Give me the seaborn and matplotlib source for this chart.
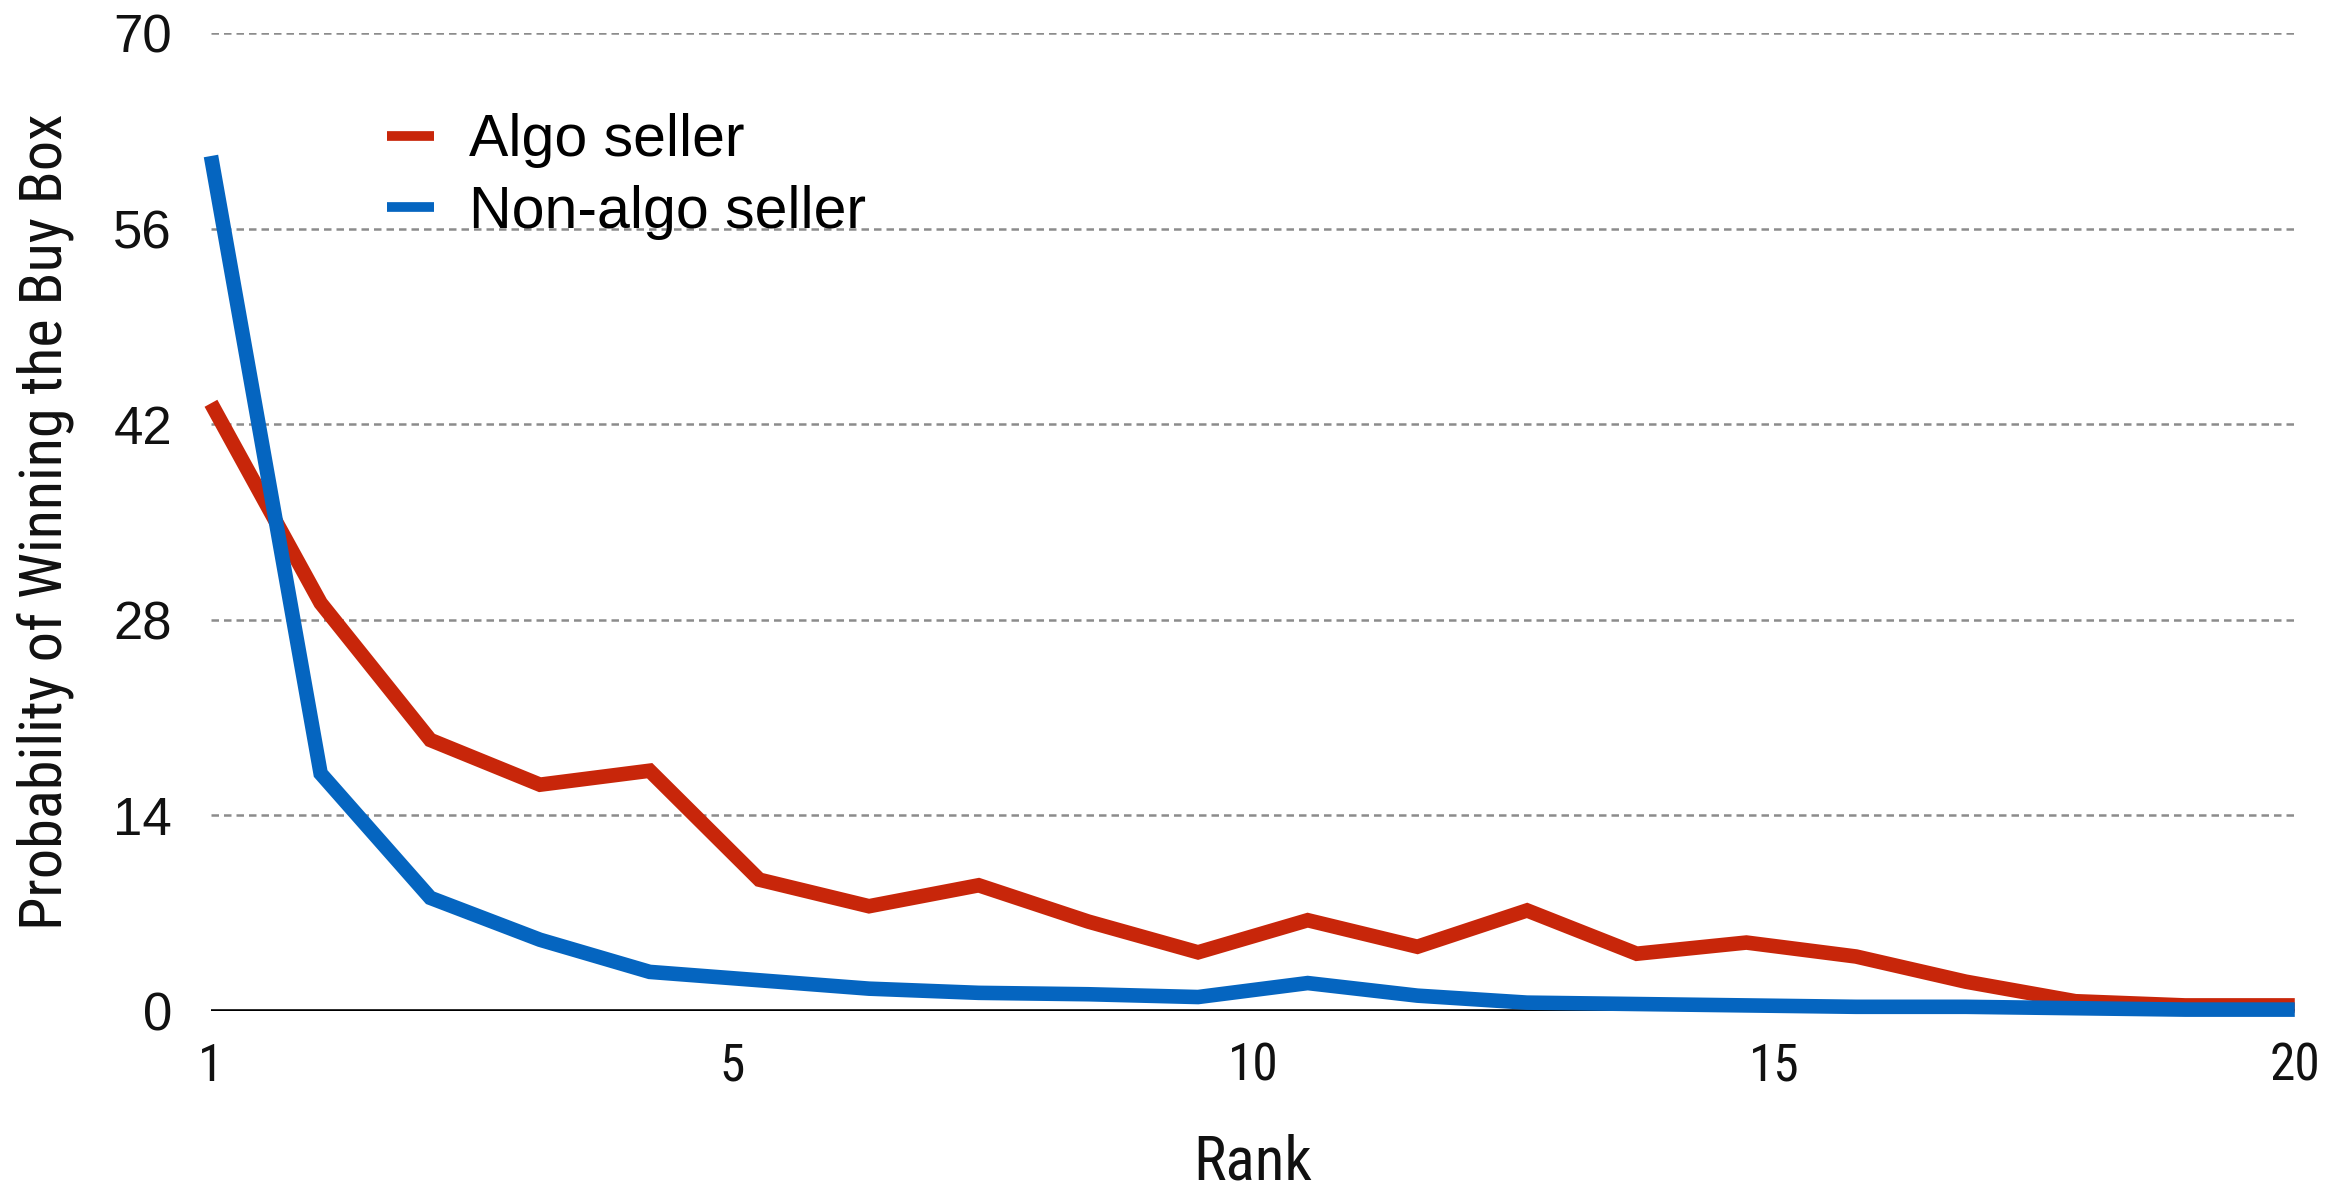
import numpy as np
import pandas as pd
import matplotlib
matplotlib.use("Agg")
import matplotlib.pyplot as plt
from matplotlib import font_manager
from matplotlib.lines import Line2D
import seaborn as sns

ranks = list(range(1, 21))
algo = [43.5, 29.2, 19.4, 16.2, 17.2, 9.4, 7.5, 9.0, 6.4, 4.2,
        6.5, 4.6, 7.2, 4.1, 4.9, 3.9, 2.1, 0.7, 0.4, 0.4]
non_algo = [61.2, 17.0, 8.1, 5.1, 2.8, 2.2, 1.6, 1.3, 1.2, 1.0,
            2.0, 1.1, 0.6, 0.5, 0.4, 0.3, 0.3, 0.2, 0.1, 0.1]
series_names = ["Algo seller", "Non-algo seller"]
colors = ["#C8260A", "#0565C0"]
y_ticks = [0, 14, 28, 42, 56, 70]
x_tick_labels = ["1", "5", "10", "15", "20"]

sns.set_theme(style="white")
names = {f.name for f in font_manager.fontManager.ttflist}
main_font = "Liberation Sans" if "Liberation Sans" in names else "DejaVu Sans"
narrow_font = main_font
for cand in ["Liberation Sans Narrow", "Roboto Condensed", "Open Sans Condensed", "DejaVu Sans Condensed"]:
    if cand in names:
        narrow_font = cand
        break
plt.rcParams["font.family"] = [main_font, "DejaVu Sans"]
plt.rcParams["text.color"] = "#000000"

df = pd.DataFrame({
    "Rank": ranks * 2,
    "Value": algo + non_algo,
    "Seller": [series_names[0]] * len(ranks) + [series_names[1]] * len(ranks),
})

fig = plt.figure(figsize=(23.44, 11.89), dpi=100)
ax = fig.add_axes([0.090, 0.1497, 0.889, 0.8225])

sns.lineplot(data=df, x="Rank", y="Value", hue="Seller", palette=colors,
             linewidth=10.5, sort=False, legend=False, ax=ax, zorder=3)
for ln in ax.lines:
    ln.set_solid_capstyle("butt")
    ln.set_solid_joinstyle("miter")
    ln.set_clip_on(False)

ax.set_xlim(1, 20)
ax.set_ylim(0, 70)
for sp in ax.spines.values():
    sp.set_visible(False)

for yv in y_ticks[1:]:
    ax.axhline(yv, color="#8c8c8c", lw=1.8, ls=(0, (3, 2)), zorder=1)
ax.axhline(0, color="#000000", lw=2.6, zorder=2)

ax.set_yticks(y_ticks)
ax.set_yticklabels([str(v) for v in y_ticks])
ax.set_xticks(np.linspace(1, 20, len(x_tick_labels)))
ax.set_xticklabels(x_tick_labels)
ax.tick_params(axis="y", length=0, pad=28, labelsize=38, labelcolor="#111111")
ax.tick_params(axis="x", length=0, pad=22, labelsize=37, labelcolor="#111111")
for t in ax.get_xticklabels():
    t.set_fontfamily(narrow_font)

ax.set_xlabel("Rank", fontsize=44, fontfamily=narrow_font, labelpad=30, color="#111111")
ax.set_ylabel("Probability of Winning the Buy Box", fontsize=43.5, fontfamily=narrow_font,
              labelpad=28, color="#111111")

handles = [Line2D([0], [0], color=c, lw=7, solid_capstyle="butt") for c in colors]
leg = ax.legend(handles, series_names, loc="upper left", bbox_to_anchor=(0.073, 0.942),
                frameon=False, fontsize=42.5, handlelength=0.8, handletextpad=0.6,
                labelspacing=0.28, borderaxespad=0)
for t in leg.get_texts():
    t.set_color("#000000")

fig.savefig("out.png", dpi=100)
